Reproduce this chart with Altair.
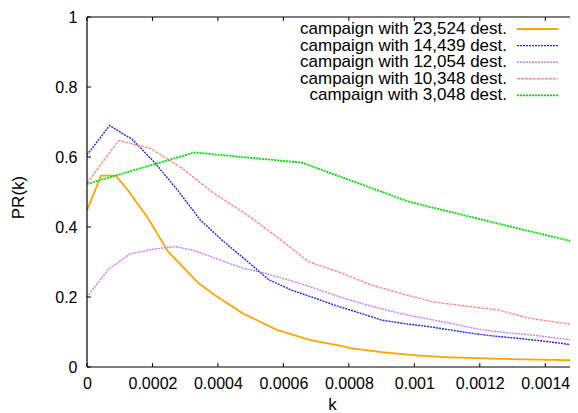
import altair as alt
import pandas as pd

FONT = "Liberation Sans"
FS = 17
FS_TICK = 16

series_labels = [
    "campaign with 23,524 dest.",
    "campaign with 14,439 dest.",
    "campaign with 12,054 dest.",
    "campaign with 10,348 dest.",
    "campaign with 3,048 dest.",
]
series_colors = ["#ffa500", "#2020ff", "#c080ff", "#ff8c8c", "#00e000"]
series_dash = [[1, 0], [2, 1], [2, 1], [3, 1], [2, 1]]
series_width = [1.8, 1.4, 1.4, 1.4, 1.8]

k_orange = [0, 0.0000428, 0.0000877, 0.0001268, 0.0001864, 0.0002475, 0.0003391,
            0.000391, 0.0004766, 0.0005804, 0.0006813, 0.0007729, 0.0008035,
            0.0009043, 0.0010082, 0.0010998, 0.0012006, 0.0013228, 0.0015]
pr_orange = [0.447, 0.547, 0.547, 0.503, 0.425, 0.33, 0.241,
             0.205, 0.153, 0.106, 0.077, 0.061, 0.054,
             0.042, 0.033, 0.028, 0.025, 0.022, 0.019]

k_blue = [0, 0.0000693, 0.0001385, 0.0002078, 0.000277, 0.0003463, 0.0004155,
          0.0004848, 0.000554, 0.0006233, 0.0006926, 0.0007618, 0.0008311,
          0.0009003, 0.0009696, 0.0010389, 0.0011081, 0.0011774, 0.0012466,
          0.0013159, 0.0013851, 0.0014544, 0.0015]
pr_blue = [0.606, 0.69, 0.65, 0.583, 0.505, 0.42, 0.36,
           0.306, 0.25, 0.22, 0.198, 0.175, 0.155,
           0.134, 0.124, 0.116, 0.106, 0.096, 0.088,
           0.082, 0.075, 0.067, 0.06]

k_purple = [0, 0.0000642, 0.0001314, 0.0001986, 0.0002688, 0.0003299, 0.0004766,
            0.0005438, 0.0006507, 0.0007729, 0.0008554, 0.0009562, 0.001109,
            0.0012067, 0.0012831, 0.0013625, 0.0015]
pr_purple = [0.20, 0.278, 0.323, 0.336, 0.344, 0.332, 0.282,
             0.268, 0.239, 0.20, 0.177, 0.153, 0.125,
             0.106, 0.098, 0.091, 0.075]

k_pink = [0, 0.0000966, 0.0001933, 0.0002899, 0.0003865, 0.0004832, 0.0005798,
          0.0006765, 0.0007731, 0.0008697, 0.0009664, 0.001063, 0.0011597,
          0.0012563, 0.0013529, 0.0014496, 0.0015]
pr_pink = [0.525, 0.647, 0.625, 0.568, 0.497, 0.439, 0.372,
           0.301, 0.27, 0.234, 0.208, 0.185, 0.174,
           0.163, 0.139, 0.126, 0.12]

k_green = [0, 0.000328, 0.000656, 0.000984, 0.001312, 0.0015]
pr_green = [0.523, 0.613, 0.584, 0.472, 0.397, 0.355]

x_ticks = [0, 0.0002, 0.0004, 0.0006, 0.0008, 0.001, 0.0012, 0.0014]
y_ticks = [0, 0.2, 0.4, 0.6, 0.8, 1.0]

# the full plot would be 491px wide for [0, 0.0015]; the page only shows the
# first 483px of it (the right edge falls off the window in the original)
W_FULL, W, H = 491, 483, 350
X_MAX = 0.0015 * W / W_FULL
TICK = 4

xs = alt.Scale(domain=[0, X_MAX], nice=False, zero=False)
ys = alt.Scale(domain=[0, 1], nice=False, zero=False)

x_axis = alt.Axis(values=x_ticks, format=".4~f", grid=False, ticks=False, domain=False,
                  labelFont=FONT, labelFontSize=FS_TICK, labelColor="black", labelPadding=8,
                  labelFlush=False, labelOverlap=False, title="k", titleFont=FONT,
                  titleFontSize=FS, titleFontWeight="normal", titleColor="black",
                  titleX=245, titleY=37, titleBaseline="middle", titleAlign="center")
y_axis = alt.Axis(values=y_ticks, format=".1~f", grid=False, ticks=False, domain=False,
                  labelFont=FONT, labelFontSize=FS_TICK, labelColor="black", labelPadding=10,
                  labelFlush=False, labelOverlap=False, title="PR(k)", titleFont=FONT,
                  titleFontSize=FS, titleFontWeight="normal", titleColor="black",
                  titleX=-69, titleY=180, titleAngle=270, titleBaseline="middle",
                  titleAlign="center")

all_k = [k_orange, k_blue, k_purple, k_pink, k_green]
all_pr = [pr_orange, pr_blue, pr_purple, pr_pink, pr_green]

layers = []
for i, (kk, pp) in enumerate(zip(all_k, all_pr)):
    df = pd.DataFrame({"k": kk, "pr": pp})
    layers.append(
        alt.Chart(df).mark_line(color=series_colors[i], strokeDash=series_dash[i],
                                strokeWidth=series_width[i], clip=True)
        .encode(x=alt.X("k:Q", scale=xs, axis=x_axis),
                y=alt.Y("pr:Q", scale=ys, axis=y_axis))
    )

# frame: left, top, bottom (right edge lies outside the window)
border = dict(color="black", strokeWidth=1.2)
layers.append(alt.Chart().mark_rule(**border).encode(
    x=alt.value(0), y=alt.value(0), y2=alt.value(H)))
layers.append(alt.Chart().mark_rule(**border).encode(
    x=alt.value(0), x2=alt.value(W), y=alt.value(0)))
layers.append(alt.Chart().mark_rule(**border).encode(
    x=alt.value(0), x2=alt.value(W), y=alt.value(H)))

# inward ticks
xt = pd.DataFrame({"k": x_ticks})
yt = pd.DataFrame({"pr": y_ticks})
tick_style = dict(color="black", strokeWidth=1)
layers.append(alt.Chart(xt).mark_rule(**tick_style).encode(
    x=alt.X("k:Q", scale=xs, axis=x_axis), y=alt.value(H), y2=alt.value(H - TICK)))
layers.append(alt.Chart(xt).mark_rule(**tick_style).encode(
    x=alt.X("k:Q", scale=xs, axis=x_axis), y=alt.value(0), y2=alt.value(TICK)))
layers.append(alt.Chart(yt).mark_rule(**tick_style).encode(
    y=alt.Y("pr:Q", scale=ys, axis=y_axis), x=alt.value(0), x2=alt.value(TICK)))

# manual legend (top right, text right-aligned, sample line to the right)
for i, lab in enumerate(series_labels):
    ly = 12 + i * 16.6
    ldf = pd.DataFrame({"label": [lab]})
    layers.append(alt.Chart(ldf).mark_text(align="right", baseline="middle", font=FONT,
                                           fontSize=FS, color="black").encode(
        text="label:N", x=alt.value(420), y=alt.value(ly)))
    layers.append(alt.Chart(ldf).mark_rule(color=series_colors[i], strokeDash=series_dash[i],
                                           strokeWidth=series_width[i]).encode(
        x=alt.value(430), x2=alt.value(471), y=alt.value(ly)))

chart = alt.layer(*layers).properties(
    width=W, height=H,
    autosize=alt.AutoSizeParams(type="none"),
    padding={"left": 79, "top": 9, "right": 0, "bottom": 46},
).configure(background="white").configure_view(stroke=None)

chart.save("out.html", embed_options={"renderer": "svg", "actions": False})
